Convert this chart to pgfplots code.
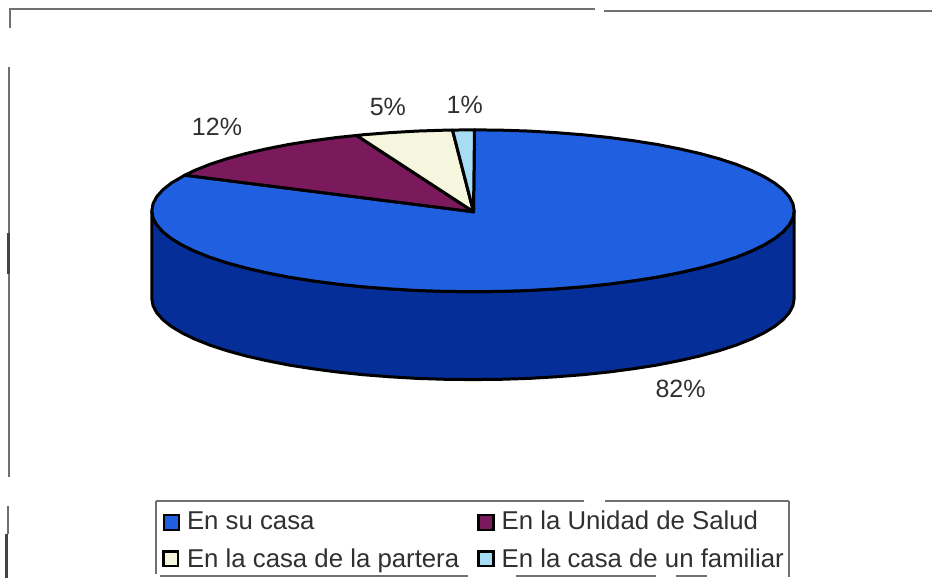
\documentclass[border=0pt]{standalone}
\usepackage{pgfplots}
\pgfplotsset{compat=1.18}
\usepackage{fontspec}
\setmainfont{Liberation Sans}
\definecolor{bluetop}{HTML}{1F5FE0}
\definecolor{blueside}{HTML}{062E98}
\definecolor{maroon}{HTML}{7A1A5C}
\definecolor{cream}{HTML}{F6F6DE}
\definecolor{sky}{HTML}{A6DDF4}
\definecolor{txt}{HTML}{303030}
\definecolor{frame}{HTML}{707070}
\newcommand{\lbl}[1]{\fontsize{25}{25}\selectfont #1}
\newcommand{\leg}[1]{\fontsize{25.8}{26}\selectfont #1}
\tikzset{
  pie/.style={draw=black, line width=3pt, line join=round, line cap=round},
  fr/.style={draw=frame, line width=2pt},
  nl/.style={anchor=base west, inner sep=0pt, text=txt},
  lm/.style={only marks, mark=square*, mark size=7.4pt},
}
\begin{document}
\begin{tikzpicture}
\begin{axis}[
  scale only axis, width=933pt, height=579pt,
  xmin=0, xmax=933, ymin=0, ymax=579, y dir=reverse,
  hide axis, clip=false,
]
% page extent
\addplot[draw=none, fill=white] coordinates {(0,0) (933,0) (933,579) (0,579) (0,0)};
% scan frame remains
\addplot[fr] coordinates {(10,9.5) (596,9.5)};
\addplot[fr] coordinates {(605,11) (933,11)};
\addplot[fr] coordinates {(10.5,8) (10.5,28)};
\addplot[fr] coordinates {(9,67) (9,478)};
\addplot[draw=frame!60!black, line width=3pt] coordinates {(9,233) (9,274)};
\addplot[fr] coordinates {(8,507) (8,535)};
\addplot[draw=frame!60!black, line width=3pt] coordinates {(7,535) (7,579)};
% side wall
\addplot[pie, fill=blueside] coordinates {
 (795.0,211) (793.8,218.1) (790.1,225.1) (784.0,232) (775.6,238.7) (764.9,245.2) (751.9,251.5) (736.9,257.5) (719.8,263.1) (700.8,268.3) (680.2,273) (657.9,277.4) (634.3,281.1) (609.4,284.4) (583.5,287.1) (556.7,289.2) (529.3,290.8) (501.5,291.7) (473.5,292)
 (445.5,291.7) (417.7,290.8) (390.3,289.2) (363.5,287.1) (337.6,284.4) (312.7,281.1) (289.1,277.4) (266.8,273) (246.2,268.3) (227.2,263.1) (210.1,257.5) (195.1,251.5) (182.1,245.2) (171.4,238.7) (163.0,232) (156.9,225.1) (153.2,218.1) (152,211)
 (152,299) (153.2,306.1) (156.9,313.1) (163.0,320) (171.4,326.7) (182.1,333.2) (195.1,339.5) (210.1,345.5) (227.2,351.1) (246.2,356.3) (266.8,361) (289.1,365.4) (312.7,369.1) (337.6,372.4) (363.5,375.1) (390.3,377.2) (417.7,378.8) (445.5,379.7) (473.5,380)
 (501.5,379.7) (529.3,378.8) (556.7,377.2) (583.5,375.1) (609.4,372.4) (634.3,369.1) (657.9,365.4) (680.2,361) (700.8,356.3) (719.8,351.1) (736.9,345.5) (751.9,339.5) (764.9,333.2) (775.6,326.7) (784.0,320) (790.1,313.1) (793.8,306.1) (795,299)
 (795,211)};
% 82%
\addplot[pie, fill=bluetop] coordinates {
 (474,212) (475,130) (501.5,130.3) (529.3,131.2) (556.7,132.8) (583.5,134.9) (609.4,137.6) (634.3,140.9) (657.9,144.6) (680.2,149) (700.8,153.7) (719.8,158.9) (736.9,164.5) (751.9,170.5) (764.9,176.8) (775.6,183.3) (784.0,190) (790.1,196.9) (793.8,203.9) (795,211)
 (793.8,218.1) (790.1,225.1) (784.0,232) (775.6,238.7) (764.9,245.2) (751.9,251.5) (736.9,257.5) (719.8,263.1) (700.8,268.3) (680.2,273) (657.9,277.4) (634.3,281.1) (609.4,284.4) (583.5,287.1) (556.7,289.2) (529.3,290.8) (501.5,291.7) (473.5,292)
 (445.5,291.7) (417.7,290.8) (390.3,289.2) (363.5,287.1) (337.6,284.4) (312.7,281.1) (289.1,277.4) (266.8,273) (246.2,268.3) (227.2,263.1) (210.1,257.5) (195.1,251.5) (182.1,245.2) (171.4,238.7) (163.0,232) (156.9,225.1) (153.2,218.1) (152,211)
 (153.2,203.9) (156.9,196.9) (163.0,190) (171.4,183.3) (185,175.4) (474,212)};
% 12%
\addplot[pie, fill=maroon] coordinates {
 (474,212) (185,175.4) (195.1,170.5) (210.1,164.5) (227.2,158.9) (246.2,153.7) (266.8,149) (289.1,144.6) (312.7,140.9) (337.6,137.6) (357,135.6) (474,212)};
% 5%
\addplot[pie, fill=cream] coordinates {
 (474,212) (357,135.6) (363.5,134.9) (390.3,132.8) (417.7,131.2) (445.5,130.3) (453,130.2) (474,212)};
% 1%
\addplot[pie, fill=sky] coordinates {
 (474,212) (453,130.2) (473.5,130) (475,130) (474,212)};
% data labels
\node[nl] at (axis cs:192,136) {\lbl{12\%}};
\node[nl] at (axis cs:370,116) {\lbl{5\%}};
\node[nl] at (axis cs:447,114) {\lbl{1\%}};
\node[nl] at (axis cs:656,398) {\lbl{82\%}};
% legend frame
\addplot[fr] coordinates {(156,502) (585,502)};
\addplot[fr] coordinates {(606,502) (790,502)};
\addplot[fr] coordinates {(790,502) (790,578)};
\addplot[fr] coordinates {(156,502) (156,575)};
\addplot[fr] coordinates {(160,577) (468,577)};
\addplot[fr] coordinates {(517,577) (657,577)};
\addplot[fr] coordinates {(677,577) (708,577)};
% legend keys
\addplot[lm, mark options={draw=black, line width=2.4pt, fill=bluetop}] coordinates {(171.5,523)};
\addplot[lm, mark options={draw=black, line width=2.4pt, fill=maroon}] coordinates {(486.5,523)};
\addplot[lm, mark options={draw=black, line width=2.4pt, fill=cream}] coordinates {(171,559.5)};
\addplot[lm, mark options={draw=black, line width=2.4pt, fill=sky}] coordinates {(486.5,559.5)};
\node[nl] at (axis cs:187,530) {\leg{En su casa}};
\node[nl] at (axis cs:502,530) {\leg{En la Unidad de Salud}};
\node[nl] at (axis cs:187,568) {\leg{En la casa de la partera}};
\node[nl] at (axis cs:502,568) {\leg{En la casa de un familiar}};
\end{axis}
\end{tikzpicture}
\end{document}
